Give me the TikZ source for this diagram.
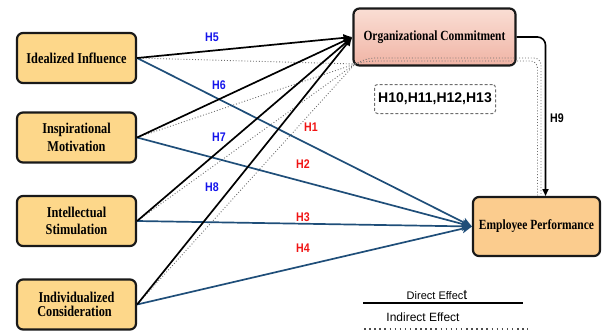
\documentclass[tikz,border=0pt]{standalone}
\usepackage{fontspec}
\setmainfont{Liberation Serif}
\newfontfamily\boxfont[FakeStretch=0.82]{Liberation Serif}
\newfontfamily\labfont[FakeStretch=0.85]{Liberation Sans}
\newfontfamily\legfont{Liberation Sans}
\usetikzlibrary{arrows.meta}
\definecolor{leftfill}{RGB}{253,215,138}
\definecolor{epfill}{RGB}{251,204,142}
\definecolor{octop}{RGB}{250,222,212}
\definecolor{ocbot}{RGB}{240,180,165}
\definecolor{pathblue}{RGB}{31,78,121}
\definecolor{hblue}{RGB}{20,20,235}
\definecolor{hred}{RGB}{240,20,20}
\definecolor{dotgray}{RGB}{110,110,110}
\begin{document}
\begin{tikzpicture}[x=1pt,y=-1pt,
  cbox/.style={draw=black!90, line width=2.2pt, rounded corners=6pt, align=center, inner sep=0pt},
  leftbox/.style={cbox, fill=leftfill, minimum width=119pt, minimum height=50pt,
     font=\boxfont\bfseries\fontsize{15}{17.5}\selectfont},
  direct/.style={line width=1.7pt, black, -{Latex[length=9pt,width=8pt]}},
  blueline/.style={line width=1.7pt, pathblue, -{Stealth[length=10pt,width=9pt,inset=2.5pt]}},
  indirect/.style={line width=0.9pt, dotgray, dash pattern=on 0.9pt off 2pt},
  hlab/.style={font=\labfont\bfseries\fontsize{12.5}{14}\selectfont, inner sep=1pt},
]
\useasboundingbox (0,0) rectangle (602,335);

% boxes
\node[leftbox] (ii) at (76.5,58) {Idealized Influence};
\node[leftbox] (im) at (76.5,137.5) {Inspirational\\Motivation};
\node[leftbox] (is) at (76.5,221) {Intellectual\\Stimulation};
\node[leftbox, font=\boxfont\bfseries\fontsize{15}{14.5}\selectfont] (ic) at (76.5,304.5) {Individualized\\\hspace*{-4pt}Consideration};
\node[cbox, top color=octop, bottom color=ocbot, minimum width=162pt, minimum height=57pt,
  font=\boxfont\bfseries\fontsize{14}{16}\selectfont] (oc) at (434.5,37) {Organizational Commitment};
\node[cbox, fill=epfill, minimum width=127pt, minimum height=59pt,
  font=\boxfont\bfseries\fontsize{14}{16}\selectfont] (ep) at (536.5,226.5) {Employee Performance};

% indirect (dotted) paths
\coordinate (dj) at (355,64);
\foreach \s in {ii,im,is,ic} \draw[indirect] (\s.east) -- (dj);
\coordinate (dA) at (541,195.5);
\coordinate (dB) at (537.5,195.5);
\draw[indirect, rounded corners=7pt] (dj) -- (368,58) -- (541,58) -- (dA);
\draw[indirect, rounded corners=7pt] (dj) -- (368,61) -- (537.5,61) -- (dB);

% direct effects on performance
\foreach \s in {ii,im,is,ic} \draw[blueline] (\s.east) -- (ep.west);
% effects on commitment
\foreach \s in {ii,im,is,ic} \draw[direct] (\s.east) -- (oc.west);

% H9
\coordinate (h9end) at (545.5,196);
\draw[line width=1.6pt, rounded corners=8pt, -{Triangle[length=7pt,width=6pt]}] (oc.east) -| (h9end);

% labels
\node[hlab, text=hblue] (h5) at (212,37) {H5};
\node[hlab, text=hblue] (h6) at (219,85) {H6};
\node[hlab, text=hblue] (h7) at (219,137) {H7};
\node[hlab, text=hblue] (h8) at (212,187) {H8};
\node[hlab, text=hred] (h1) at (311,127) {H1};
\node[hlab, text=hred] (h2) at (303,164) {H2};
\node[hlab, text=hred] (h3) at (303,217) {H3};
\node[hlab, text=hred] (h4) at (303,248) {H4};
\node[hlab, text=black] (h9) at (557,118) {H9};
\node[draw=dotgray, dash pattern=on 3pt off 2pt, line width=1pt, rounded corners=3pt,
  minimum width=121pt, minimum height=29pt,
  font=\legfont\bfseries\fontsize{14}{16}\selectfont] (hind) at (435,99) {H10,H11,H12,H13};

% legend
\node[font=\legfont\fontsize{11}{13}\selectfont, inner sep=0pt] (leg1) at (437,295) {Direct Effec{\fontsize{14}{14}\selectfont t}};
\coordinate (l1a) at (363,303);
\coordinate (l1b) at (523,303);
\draw[line width=1.2pt] (l1a) -- (l1b);
\node[font=\legfont\fontsize{12}{14}\selectfont, inner sep=0pt] (leg2) at (423,317) {Indirect Effect};
\coordinate (l2a) at (364,329);
\coordinate (l2b) at (528,329);
\draw[line width=1.6pt, dotgray!70!black, dash pattern=on 1.5pt off 3.6pt] (l2a) -- (l2b);
\end{tikzpicture}
\end{document}
